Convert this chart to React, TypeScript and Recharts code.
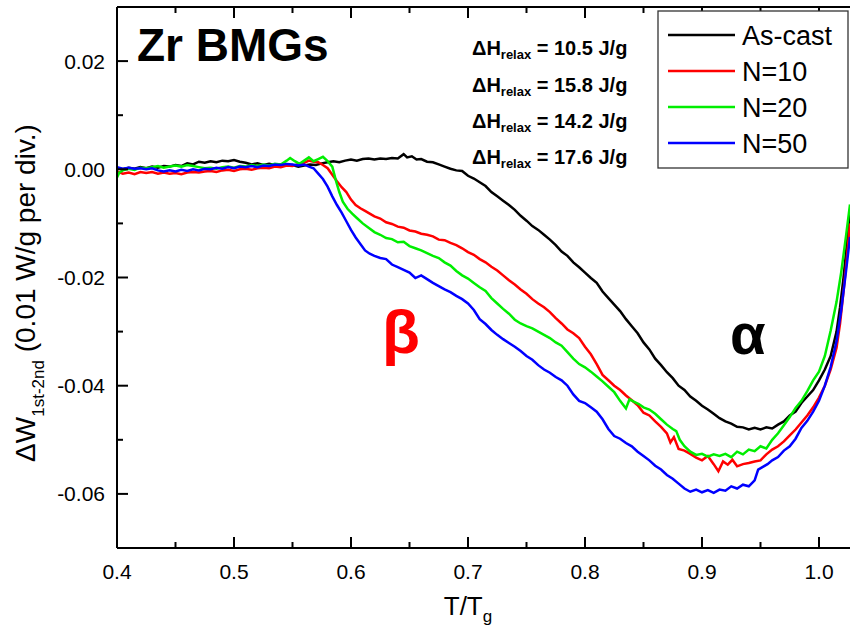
import React from 'react';
import { LineChart, Line, XAxis, YAxis } from 'recharts';

const FONT = '"Liberation Sans", Arial, sans-serif';

// T/Tg tick values (major every 0.1, minor every 0.05)
const xTicks = [0.4, 0.45, 0.5, 0.55, 0.6, 0.65, 0.7, 0.75, 0.8, 0.85, 0.9, 0.95, 1.0];
// ΔW tick values (major every 0.02, minor every 0.01)
const yTicks = [-0.06, -0.05, -0.04, -0.03, -0.02, -0.01, 0, 0.01, 0.02];

const seriesNames = ['As-cast', 'N=10', 'N=20', 'N=50'];
const seriesColors = ['#000000', '#ff0000', '#00ee00', '#0000ff'];
const dhLabels = ['10.5 J/g', '15.8 J/g', '14.2 J/g', '17.6 J/g'];

const asCast: [number, number][] = [
  [0.400,0.0002],[0.405,0.0000],[0.410,0.0003],[0.415,0.0001],[0.420,0.0004],[0.425,0.0002],[0.430,0.0005],[0.435,0.0003],
  [0.440,0.0006],[0.445,0.0005],[0.450,0.0008],[0.455,0.0006],[0.460,0.0011],[0.465,0.0009],[0.470,0.0014],[0.475,0.0012],
  [0.480,0.0015],[0.485,0.0013],[0.490,0.0016],[0.495,0.0015],[0.500,0.0017],[0.505,0.0014],[0.510,0.0012],[0.515,0.0009],
  [0.520,0.0011],[0.525,0.0008],[0.530,0.0010],[0.535,0.0008],[0.540,0.0009],[0.545,0.0007],[0.550,0.0008],[0.555,0.0005],
  [0.560,0.0007],[0.565,0.0009],[0.570,0.0008],[0.575,0.0011],[0.580,0.0013],[0.585,0.0015],[0.590,0.0013],[0.595,0.0016],
  [0.600,0.0018],[0.605,0.0016],[0.610,0.0019],[0.615,0.0020],[0.620,0.0018],[0.625,0.0020],[0.630,0.0019],[0.635,0.0021],
  [0.640,0.0020],[0.645,0.0028],[0.648,0.0022],[0.652,0.0024],[0.656,0.0018],[0.660,0.0019],[0.665,0.0014],[0.670,0.0013],
  [0.675,0.0009],[0.680,0.0005],[0.685,0.0001],[0.690,-0.0002],[0.695,-0.0003],[0.700,-0.0012],[0.705,-0.0017],[0.710,-0.0024],
  [0.715,-0.0031],[0.720,-0.0042],[0.725,-0.0050],[0.730,-0.0058],[0.735,-0.0066],[0.740,-0.0075],[0.745,-0.0086],[0.750,-0.0095],
  [0.755,-0.0105],[0.760,-0.0112],[0.765,-0.0121],[0.770,-0.0130],[0.775,-0.0140],[0.780,-0.0152],[0.785,-0.0160],[0.790,-0.0172],
  [0.795,-0.0181],[0.800,-0.0191],[0.805,-0.0201],[0.810,-0.0210],[0.815,-0.0226],[0.820,-0.0238],[0.825,-0.0250],[0.830,-0.0262],
  [0.835,-0.0277],[0.840,-0.0290],[0.845,-0.0303],[0.850,-0.0320],[0.855,-0.0333],[0.860,-0.0350],[0.865,-0.0362],[0.870,-0.0375],
  [0.875,-0.0386],[0.880,-0.0400],[0.885,-0.0408],[0.890,-0.0420],[0.895,-0.0428],[0.900,-0.0437],[0.905,-0.0444],[0.910,-0.0452],
  [0.915,-0.0460],[0.920,-0.0466],[0.925,-0.0470],[0.930,-0.0476],[0.935,-0.0477],[0.940,-0.0481],[0.945,-0.0478],[0.950,-0.0481],
  [0.955,-0.0477],[0.960,-0.0479],[0.965,-0.0472],[0.970,-0.0466],[0.975,-0.0455],[0.980,-0.0448],[0.985,-0.0432],[0.990,-0.0420],
  [0.995,-0.0408],[1.000,-0.0390],[1.005,-0.0370],[1.010,-0.0345],[1.015,-0.0300],[1.018,-0.0255],[1.021,-0.0200],[1.024,-0.0135],
  [1.0265,-0.0075],
];

const n10: [number, number][] = [
  [0.400,-0.0004],[0.405,-0.0008],[0.410,-0.0006],[0.415,-0.0009],[0.420,-0.0005],[0.425,-0.0007],[0.430,-0.0005],[0.435,-0.0008],
  [0.440,-0.0006],[0.445,-0.0008],[0.450,-0.0007],[0.455,-0.0009],[0.460,-0.0006],[0.465,-0.0005],[0.470,-0.0006],[0.475,-0.0004],
  [0.480,-0.0003],[0.485,-0.0005],[0.490,-0.0002],[0.495,-0.0001],[0.500,-0.0003],[0.505,0.0000],[0.510,0.0001],[0.515,-0.0001],
  [0.520,0.0002],[0.525,0.0003],[0.530,0.0002],[0.535,0.0005],[0.540,0.0004],[0.545,0.0007],[0.550,0.0006],[0.555,0.0010],
  [0.560,0.0012],[0.564,0.0016],[0.568,0.0014],[0.572,0.0013],[0.576,0.0008],[0.580,0.0002],[0.584,-0.0010],[0.588,-0.0022],
  [0.592,-0.0033],[0.596,-0.0042],[0.600,-0.0056],[0.604,-0.0066],[0.608,-0.0072],[0.612,-0.0077],[0.616,-0.0082],[0.620,-0.0087],
  [0.625,-0.0091],[0.630,-0.0098],[0.635,-0.0101],[0.640,-0.0106],[0.645,-0.0108],[0.650,-0.0113],[0.655,-0.0115],[0.660,-0.0119],
  [0.665,-0.0121],[0.670,-0.0124],[0.675,-0.0130],[0.680,-0.0131],[0.685,-0.0136],[0.690,-0.0140],[0.695,-0.0146],[0.700,-0.0153],
  [0.705,-0.0158],[0.710,-0.0166],[0.715,-0.0172],[0.720,-0.0180],[0.725,-0.0187],[0.730,-0.0196],[0.735,-0.0205],[0.740,-0.0213],
  [0.745,-0.0222],[0.750,-0.0230],[0.755,-0.0240],[0.760,-0.0248],[0.765,-0.0255],[0.770,-0.0264],[0.775,-0.0275],[0.780,-0.0285],
  [0.785,-0.0296],[0.790,-0.0303],[0.795,-0.0312],[0.800,-0.0328],[0.805,-0.0342],[0.810,-0.0360],[0.815,-0.0380],[0.820,-0.0390],
  [0.825,-0.0400],[0.830,-0.0408],[0.835,-0.0418],[0.840,-0.0427],[0.845,-0.0436],[0.850,-0.0450],[0.855,-0.0455],[0.860,-0.0466],
  [0.865,-0.0476],[0.870,-0.0488],[0.873,-0.0505],[0.876,-0.0495],[0.880,-0.0517],[0.885,-0.0520],[0.890,-0.0526],[0.895,-0.0533],
  [0.900,-0.0538],[0.905,-0.0530],[0.910,-0.0545],[0.914,-0.0558],[0.918,-0.0540],[0.922,-0.0546],[0.926,-0.0537],[0.930,-0.0549],
  [0.935,-0.0545],[0.940,-0.0543],[0.945,-0.0540],[0.950,-0.0538],[0.955,-0.0527],[0.960,-0.0518],[0.965,-0.0512],[0.970,-0.0503],
  [0.975,-0.0492],[0.980,-0.0481],[0.985,-0.0468],[0.990,-0.0455],[0.995,-0.0440],[1.000,-0.0422],[1.005,-0.0400],[1.010,-0.0370],
  [1.015,-0.0330],[1.018,-0.0285],[1.021,-0.0225],[1.024,-0.0160],[1.0265,-0.0100],
];

const n20: [number, number][] = [
  [0.400,-0.0015],[0.402,-0.0006],[0.405,-0.0002],[0.410,0.0001],[0.415,-0.0001],[0.420,0.0003],[0.425,0.0002],[0.430,0.0004],
  [0.435,0.0006],[0.440,0.0003],[0.445,0.0005],[0.450,0.0007],[0.455,0.0005],[0.460,0.0008],[0.465,0.0006],[0.470,0.0004],
  [0.475,0.0002],[0.480,0.0003],[0.485,0.0001],[0.490,0.0004],[0.495,0.0005],[0.500,0.0003],[0.505,0.0006],[0.510,0.0005],
  [0.515,0.0008],[0.520,0.0006],[0.525,0.0009],[0.530,0.0007],[0.535,0.0010],[0.540,0.0009],[0.545,0.0016],[0.548,0.0021],
  [0.552,0.0015],[0.556,0.0010],[0.560,0.0016],[0.564,0.0022],[0.568,0.0015],[0.572,0.0019],[0.576,0.0023],[0.580,0.0015],
  [0.584,0.0005],[0.587,-0.0020],[0.590,-0.0042],[0.593,-0.0060],[0.597,-0.0073],[0.601,-0.0082],[0.605,-0.0090],[0.610,-0.0100],
  [0.615,-0.0108],[0.620,-0.0116],[0.625,-0.0121],[0.630,-0.0127],[0.635,-0.0129],[0.640,-0.0135],[0.645,-0.0134],[0.650,-0.0142],
  [0.655,-0.0146],[0.660,-0.0150],[0.665,-0.0155],[0.670,-0.0160],[0.675,-0.0164],[0.680,-0.0172],[0.685,-0.0178],[0.690,-0.0188],
  [0.695,-0.0196],[0.700,-0.0202],[0.705,-0.0210],[0.710,-0.0218],[0.715,-0.0225],[0.720,-0.0238],[0.725,-0.0248],[0.730,-0.0258],
  [0.735,-0.0267],[0.740,-0.0278],[0.745,-0.0285],[0.750,-0.0290],[0.755,-0.0294],[0.760,-0.0300],[0.765,-0.0306],[0.770,-0.0312],
  [0.775,-0.0320],[0.780,-0.0326],[0.785,-0.0338],[0.790,-0.0350],[0.795,-0.0360],[0.800,-0.0366],[0.805,-0.0374],[0.810,-0.0383],
  [0.815,-0.0392],[0.820,-0.0402],[0.825,-0.0412],[0.830,-0.0428],[0.835,-0.0442],[0.838,-0.0425],[0.842,-0.0430],[0.846,-0.0434],
  [0.850,-0.0440],[0.855,-0.0444],[0.860,-0.0452],[0.865,-0.0462],[0.870,-0.0472],[0.875,-0.0480],[0.878,-0.0484],[0.881,-0.0500],
  [0.885,-0.0512],[0.890,-0.0522],[0.895,-0.0528],[0.900,-0.0526],[0.905,-0.0531],[0.910,-0.0527],[0.915,-0.0530],[0.920,-0.0526],
  [0.925,-0.0532],[0.930,-0.0522],[0.935,-0.0527],[0.940,-0.0518],[0.945,-0.0521],[0.950,-0.0512],[0.955,-0.0516],[0.960,-0.0500],
  [0.965,-0.0488],[0.970,-0.0473],[0.975,-0.0458],[0.980,-0.0441],[0.985,-0.0428],[0.990,-0.0410],[0.995,-0.0390],[1.000,-0.0374],
  [1.005,-0.0345],[1.010,-0.0298],[1.015,-0.0245],[1.019,-0.0190],[1.023,-0.0125],[1.0265,-0.0065],
];

const n50: [number, number][] = [
  [0.400,0.0004],[0.405,0.0001],[0.410,0.0003],[0.415,0.0001],[0.420,0.0002],[0.425,0.0000],[0.430,0.0002],[0.435,-0.0002],
  [0.440,-0.0004],[0.445,-0.0002],[0.450,-0.0004],[0.455,-0.0001],[0.460,-0.0003],[0.465,0.0000],[0.470,-0.0002],[0.475,0.0001],
  [0.480,0.0000],[0.485,0.0003],[0.490,0.0001],[0.495,0.0004],[0.500,0.0002],[0.505,0.0005],[0.510,0.0004],[0.515,0.0006],
  [0.520,0.0004],[0.525,0.0007],[0.530,0.0006],[0.535,0.0009],[0.540,0.0008],[0.545,0.0010],[0.550,0.0009],[0.555,0.0007],
  [0.560,0.0009],[0.564,0.0005],[0.568,0.0002],[0.572,-0.0008],[0.576,-0.0018],[0.580,-0.0032],[0.584,-0.0050],[0.588,-0.0066],
  [0.592,-0.0080],[0.596,-0.0096],[0.600,-0.0112],[0.604,-0.0126],[0.608,-0.0138],[0.612,-0.0150],[0.616,-0.0156],[0.620,-0.0160],
  [0.625,-0.0164],[0.630,-0.0166],[0.635,-0.0176],[0.640,-0.0181],[0.645,-0.0186],[0.650,-0.0191],[0.655,-0.0201],[0.660,-0.0196],
  [0.665,-0.0203],[0.670,-0.0210],[0.675,-0.0216],[0.680,-0.0222],[0.685,-0.0227],[0.690,-0.0234],[0.695,-0.0240],[0.700,-0.0248],
  [0.705,-0.0260],[0.710,-0.0277],[0.715,-0.0286],[0.720,-0.0297],[0.725,-0.0306],[0.730,-0.0314],[0.735,-0.0321],[0.740,-0.0328],
  [0.745,-0.0336],[0.750,-0.0345],[0.755,-0.0352],[0.760,-0.0362],[0.765,-0.0370],[0.770,-0.0376],[0.775,-0.0384],[0.780,-0.0390],
  [0.785,-0.0400],[0.790,-0.0416],[0.795,-0.0428],[0.800,-0.0432],[0.805,-0.0440],[0.810,-0.0448],[0.815,-0.0462],[0.820,-0.0480],
  [0.825,-0.0493],[0.830,-0.0498],[0.835,-0.0506],[0.840,-0.0512],[0.845,-0.0522],[0.850,-0.0530],[0.855,-0.0538],[0.860,-0.0548],
  [0.865,-0.0555],[0.870,-0.0565],[0.875,-0.0572],[0.880,-0.0581],[0.885,-0.0590],[0.890,-0.0596],[0.895,-0.0592],[0.900,-0.0597],
  [0.905,-0.0593],[0.910,-0.0598],[0.915,-0.0592],[0.920,-0.0594],[0.925,-0.0586],[0.930,-0.0590],[0.935,-0.0583],[0.940,-0.0586],
  [0.945,-0.0575],[0.948,-0.0555],[0.952,-0.0550],[0.956,-0.0545],[0.960,-0.0538],[0.965,-0.0532],[0.970,-0.0520],[0.975,-0.0512],
  [0.980,-0.0498],[0.985,-0.0478],[0.990,-0.0465],[0.995,-0.0448],[1.000,-0.0428],[1.005,-0.0400],[1.010,-0.0365],[1.015,-0.0318],
  [1.019,-0.0260],[1.023,-0.0190],[1.0265,-0.0125],
];

const allSeries = [asCast, n10, n20, n50];
const toRows = (s: [number, number][]) => s.map(([x, y]) => ({ x, y }));

const X_DOMAIN: [number, number] = [0.4, 1.0265];
const Y_DOMAIN: [number, number] = [-0.07, 0.03];

const isMajorX = (v: number) => Math.round(v * 100) % 10 === 0;
const isMajorY = (v: number) => Math.round(Math.abs(v) * 100) % 2 === 0;

const XTickBottom = (props: any) => {
  const { x, y, payload } = props;
  const v = payload.value as number;
  const major = isMajorX(v);
  return (
    <g>
      <line x1={x} x2={x} y1={y} y2={y - (major ? 11 : 6)} stroke="#000" strokeWidth={2} />
      {major && (
        <text x={x} y={y + 31} textAnchor="middle" fontSize={21} fontFamily={FONT} fill="#000">
          {v.toFixed(1)}
        </text>
      )}
    </g>
  );
};

const XTickTop = (props: any) => {
  const { x, y, payload } = props;
  const v = payload.value as number;
  const major = isMajorX(v);
  return <line x1={x} x2={x} y1={y} y2={y + (major ? 11 : 6)} stroke="#000" strokeWidth={2} />;
};

const YTickLeft = (props: any) => {
  const { x, y, payload } = props;
  const v = payload.value as number;
  const major = isMajorY(v);
  return (
    <g>
      <line x1={x} x2={x + (major ? 11 : 6)} y1={y} y2={y} stroke="#000" strokeWidth={2} />
      {major && (
        <text x={x - 12} y={y + 7.5} textAnchor="end" fontSize={21} fontFamily={FONT} fill="#000">
          {(Math.abs(v) < 1e-9 ? 0 : v).toFixed(2)}
        </text>
      )}
    </g>
  );
};

export default function App() {
  const legendRows = [35, 71, 107, 143];
  const dhRows = [55, 92, 128, 164];
  return (
    <div style={{ position: 'absolute', left: 0, top: 0, width: 850, height: 634, background: '#fff' }}>
      <LineChart width={850} height={634} margin={{ top: 6, right: 0, bottom: 0, left: 0 }}>
        <XAxis
          xAxisId="bottom"
          type="number"
          dataKey="x"
          domain={X_DOMAIN}
          allowDataOverflow
          ticks={xTicks}
          interval={0}
          height={86}
          tickSize={0}
          tickMargin={0}
          tickLine={false}
          axisLine={{ stroke: '#000', strokeWidth: 2 }}
          tick={XTickBottom}
        />
        <XAxis
          xAxisId="top"
          orientation="top"
          type="number"
          dataKey="x"
          domain={X_DOMAIN}
          allowDataOverflow
          ticks={xTicks}
          interval={0}
          height={1}
          tickSize={0}
          tickMargin={0}
          tickLine={false}
          axisLine={{ stroke: '#000', strokeWidth: 2 }}
          tick={XTickTop}
        />
        <YAxis
          yAxisId="left"
          type="number"
          domain={Y_DOMAIN}
          allowDataOverflow
          ticks={yTicks}
          interval={0}
          width={117}
          tickSize={0}
          tickMargin={0}
          tickLine={false}
          axisLine={{ stroke: '#000', strokeWidth: 2 }}
          tick={YTickLeft}
        />
        {allSeries.map((s, i) => (
          <Line
            key={seriesNames[i]}
            name={seriesNames[i]}
            data={toRows(s)}
            dataKey="y"
            xAxisId="bottom"
            yAxisId="left"
            type="linear"
            stroke={seriesColors[i]}
            strokeWidth={2.5}
            dot={false}
            activeDot={false}
            isAnimationActive={false}
          />
        ))}
      </LineChart>
      <svg
        width={850}
        height={634}
        style={{ position: 'absolute', left: 0, top: 0, pointerEvents: 'none' }}
        fontFamily={FONT}
      >
        <text x={137} y={61} fontSize={46} fontWeight="bold" fill="#000">Zr BMGs</text>
        {dhLabels.map((t, i) => (
          <text key={t} x={472} y={dhRows[i]} fontSize={20} fontWeight="bold" fill="#000">
            ΔH<tspan fontSize={13} dy={4}>relax</tspan>
            <tspan dy={-4}>{' = ' + t}</tspan>
          </text>
        ))}
        <rect x={658} y={11} width={190} height={157} fill="#fff" stroke="#333" strokeWidth={1.3} />
        {seriesNames.map((n, i) => (
          <g key={n}>
            <line x1={668} x2={735} y1={legendRows[i]} y2={legendRows[i]} stroke={seriesColors[i]} strokeWidth={2.5} />
            <text x={742} y={legendRows[i] + 9.5} fontSize={27} fill="#000">{n}</text>
          </g>
        ))}
        <text x={382} y={353} fontSize={62} fontWeight="bold" fill="#ff0000">β</text>
        <text x={730} y={354} fontSize={58} fontWeight="bold" fill="#000">α</text>
        <text transform="translate(35,293) rotate(-90)" textAnchor="middle" fontSize={28} fill="#000">
          ΔW<tspan fontSize={17} dy={9}>1st-2nd</tspan>
          <tspan dy={-9}> (0.01 W/g per div.)</tspan>
        </text>
        <text x={468} y={615} textAnchor="middle" fontSize={26} fill="#000">
          T/T<tspan fontSize={17} dy={7}>g</tspan>
        </text>
      </svg>
    </div>
  );
}
